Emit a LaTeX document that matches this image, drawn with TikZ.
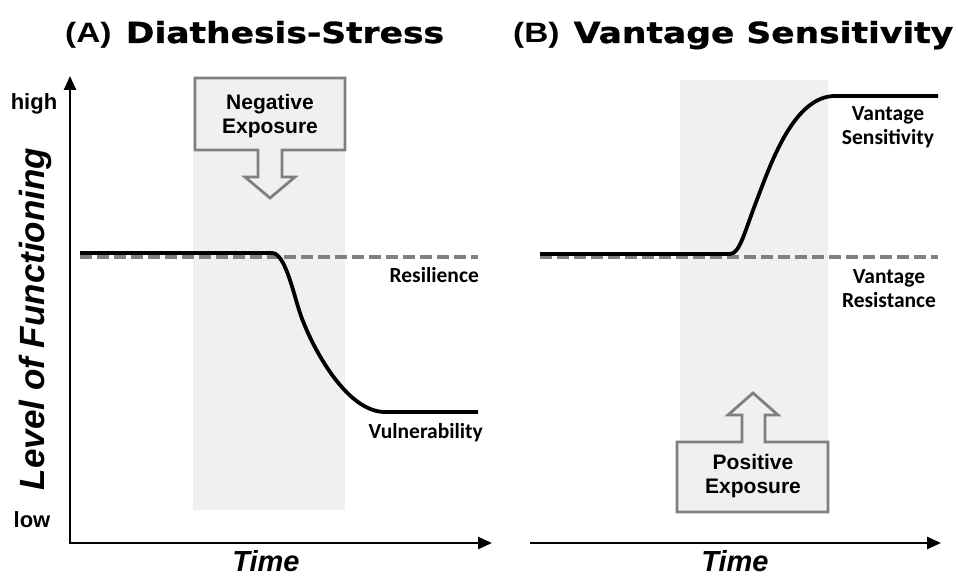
\documentclass[tikz,border=0pt]{standalone}
\usepackage{fontspec}
\setmainfont{Liberation Sans}
\newfontfamily\calib{Carlito}
\newfontfamily\dejavu{DejaVu Sans}[BoldFeatures={FakeBold=1}]
\usetikzlibrary{arrows.meta}
\definecolor{panelgray}{HTML}{F0F0F0}
\definecolor{midgray}{HTML}{808080}
\begin{document}
\begin{tikzpicture}[x=1pt,y=-1pt,
  >={Triangle[length=14pt,width=12pt]},
  axisline/.style={line width=2.6pt,black},
  curveline/.style={line width=3.8pt,black},
  dashline/.style={line width=3.8pt,midgray,dash pattern=on 12pt off 5pt},
  expo/.style={line width=2.8pt,midgray,fill=panelgray,line join=miter},
  title/.style={inner sep=0pt,xscale=1.19,font=\bfseries\fontsize{28}{30}\selectfont},
  lab/.style={inner sep=0pt,font=\calib\bfseries\fontsize{21.5}{24}\selectfont,align=center},
  exptext/.style={inner sep=0pt,font=\bfseries\fontsize{21}{24}\selectfont,align=center},
  ticklab/.style={inner sep=0pt,font=\bfseries\fontsize{22}{24}\selectfont},
  axtitle/.style={inner sep=0pt,font=\bfseries\itshape\fontsize{29}{32}\selectfont},
  ytitle/.style={inner sep=0pt,font=\bfseries\itshape\fontsize{35}{38}\selectfont}]
\useasboundingbox (0,0) rectangle (958,577);
% shaded periods
\fill[panelgray] (193,78) rectangle (345,510);
\fill[panelgray] (680,80) rectangle (828,510);
% titles
\node[title,anchor=base west] (tA) at (65,43) {(A)\hspace{12pt}{\dejavu\fontsize{29}{30}\selectfont Diathesis-Stress}};
\node[title,anchor=base west] (tB) at (513,43) {(B)\hspace{12pt}{\dejavu\fontsize{29}{30}\selectfont Vantage Sensitivity}};
% exposure boxes
\draw[expo] (195,78) -- (345,78) -- (345,150) -- (282,150) -- (282,177) -- (295,177) -- (270,198) -- (245,177) -- (258,177) -- (258,150) -- (195,150) -- cycle;
\node[exptext] (neg) at (270,116) {Negative\\Exposure};
\draw[expo] (677,512) -- (828,512) -- (828,442) -- (765,442) -- (765,415) -- (778,415) -- (753,393) -- (728,415) -- (742,415) -- (742,442) -- (677,442) -- cycle;
\node[exptext] (pos) at (753,476) {Positive\\Exposure};
% axes
\coordinate (ytop) at (70,76);
\coordinate (orig) at (70,543);
\coordinate (xendA) at (492,543);
\coordinate (xstartB) at (530,543);
\coordinate (xendB) at (941,543);
\draw[axisline,<->] (ytop) -- (orig) -- (xendA);
\draw[axisline,->] (xstartB) -- (xendB);
\node[ticklab] (high) at (34,104) {high};
\node[ticklab] (low) at (32,520) {low};
\node[ytitle,rotate=90] (ylab) at (35,319) {Level of Functioning};
\node[axtitle] (timeA) at (266,561) {Time};
\node[axtitle] (timeB) at (735,561) {Time};
% curves panel A
\draw[dashline] (80,257) -- (478,257);
\draw[curveline] (80,253) -- (272,253) .. controls (285,253) and (293,292) .. (300,313) .. controls (310,343) and (345,412) .. (385,412) -- (478,412);
\node[lab,anchor=east] (res) at (479,275) {Resilience};
\node[lab,anchor=east] (vul) at (483,433) {Vulnerability};
% curves panel B
\draw[dashline] (540,257) -- (938,257);
\draw[curveline] (540,254) -- (730,254) .. controls (740,254) and (745,230) .. (758,197) .. controls (772,160) and (795,96) .. (835,96) -- (938,96);
\node[lab] (vs) at (888,127) {Vantage\\Sensitivity};
\node[lab] (vr) at (889,289) {Vantage\\Resistance};
\end{tikzpicture}
\end{document}
